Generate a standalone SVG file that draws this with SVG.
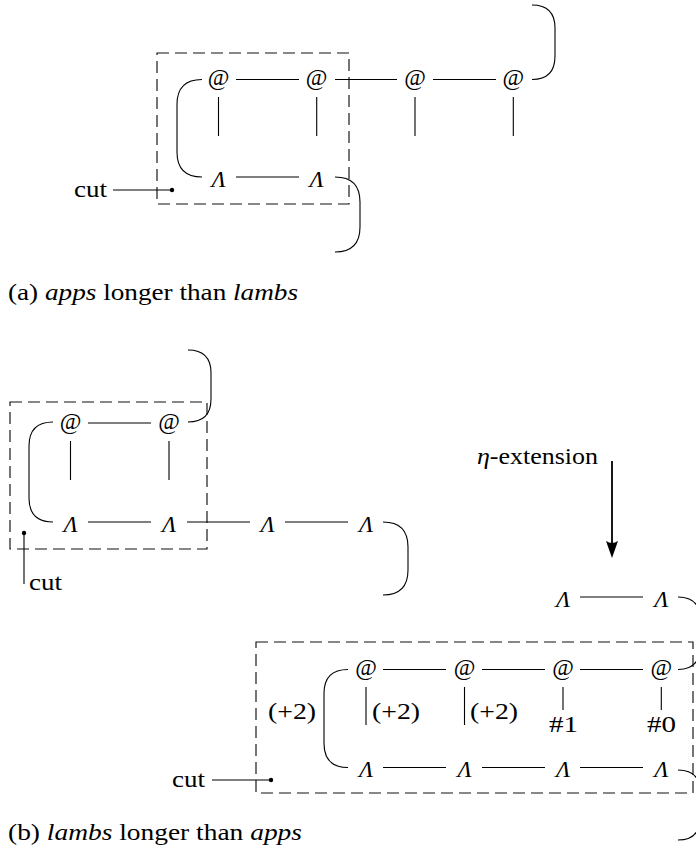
<svg xmlns="http://www.w3.org/2000/svg" width="696" height="856" viewBox="0 0 696 856">
<style>
.ln{stroke:#000;stroke-width:1.1;fill:none}
.box{stroke:#111;stroke-width:1.15;fill:none;stroke-dasharray:12 6}
.t text{font-size:23.5px;fill:#000}
.n{text-anchor:middle}
.it{font-style:italic}
</style>
<rect width="696" height="856" fill="#fff"/>
<g id="connectors">
<rect class="box" x="157" y="53" width="192" height="151"/>
<path class="ln" d="M236,79.5H299M335,79.5H397M433,79.5H496"/>
<path class="ln" d="M218.5,97V136M316.7,97V136M415,97V136M513.3,97V136"/>
<path class="ln" d="M236,177H299"/>
<path class="ln" d="M202,79.5Q177,79.5 177,104.5V152Q177,177 202,177"/>
<path class="ln" d="M335,177Q360,177 360,202V227Q360,252 335,252"/>
<path class="ln" d="M532,79.5Q555,79.5 555,56V28Q555,5 532,5"/>
<path class="ln" d="M113,190H172"/>
<circle cx="172" cy="190" r="2.2" fill="#000"/>
<rect class="box" x="10" y="402" width="197" height="147"/>
<path class="ln" d="M88,423H151"/>
<path class="ln" d="M70.5,441V480M169,441V480"/>
<path class="ln" d="M88,522H151M187,522H250M285,522H348"/>
<path class="ln" d="M53,422Q29,422 29,446V498Q29,522 53,522"/>
<path class="ln" d="M188,422Q211,422 211,399V373Q211,350 188,350"/>
<path class="ln" d="M383,522Q408,522 408,547V570Q408,595 383,595"/>
<path class="ln" d="M24,533V584"/>
<circle cx="24" cy="533" r="2.2" fill="#000"/>
<path d="M612,461V545" stroke="#000" stroke-width="1.8" fill="none"/>
<path d="M606,541Q612,545 618,541L612,558Z" fill="#000"/>
<path class="ln" d="M580,597H643"/>
<path class="ln" d="M678,597Q700,597 700,619V647Q700,669.5 678,669.5"/>
<rect class="box" x="256" y="642" width="437" height="151"/>
<path class="ln" d="M383,669.5H446M482,669.5H545M580,669.5H643"/>
<path class="ln" d="M366,687V725M464.5,687V725M563,687V710M661.3,687V710"/>
<path class="ln" d="M383,767.5H446M482,767.5H545M580,767.5H643"/>
<path class="ln" d="M348,669.5Q324,669.5 324,693.5V743.5Q324,767.5 348,767.5"/>
<path class="ln" d="M678,770Q700,770 700,792V818Q700,840 678,840"/>
<path class="ln" d="M212,780H271"/>
<circle cx="271" cy="780" r="2.2" fill="#000"/>
</g>
<g class="t" font-family="'Liberation Serif', 'Times New Roman', 'DejaVu Serif', serif">
<g id="a-app1"><text class="n" x="218.5" y="85">@</text></g>
<g id="a-app2"><text class="n" x="316.7" y="85">@</text></g>
<g id="a-app3"><text class="n" x="415" y="85">@</text></g>
<g id="a-app4"><text class="n" x="513.3" y="85">@</text></g>
<g id="a-lam1"><text class="n it" x="218.5" y="186.5">Λ</text></g>
<g id="a-lam2"><text class="n it" x="316.7" y="186.5">Λ</text></g>
<g id="a-cut"><text x="74" y="197" textLength="33" lengthAdjust="spacingAndGlyphs">cut</text></g>
<g id="a-caption"><text x="8" y="300" textLength="290" lengthAdjust="spacingAndGlyphs">(a) <tspan class="it">apps</tspan> longer than <tspan class="it">lambs</tspan></text></g>
<g id="b-app1"><text class="n" x="70.5" y="428.5">@</text></g>
<g id="b-app2"><text class="n" x="169" y="428.5">@</text></g>
<g id="b-lam1"><text class="n it" x="70.5" y="531.5">Λ</text></g>
<g id="b-lam2"><text class="n it" x="169" y="531.5">Λ</text></g>
<g id="b-lam3"><text class="n it" x="267.5" y="531.5">Λ</text></g>
<g id="b-lam4"><text class="n it" x="366" y="531.5">Λ</text></g>
<g id="b-cut"><text x="29" y="590" textLength="33" lengthAdjust="spacingAndGlyphs">cut</text></g>
<g id="eta"><text x="477" y="464" textLength="121" lengthAdjust="spacingAndGlyphs"><tspan class="it">η</tspan>-extension</text></g>
<g id="c-lam1"><text class="n it" x="563" y="606.5">Λ</text></g>
<g id="c-lam2"><text class="n it" x="661.3" y="606.5">Λ</text></g>
<g id="d-app1"><text class="n" x="366" y="675">@</text></g>
<g id="d-app2"><text class="n" x="464.5" y="675">@</text></g>
<g id="d-app3"><text class="n" x="563" y="675">@</text></g>
<g id="d-app4"><text class="n" x="661.3" y="675">@</text></g>
<g id="d-shift0"><text x="268" y="719" textLength="48" lengthAdjust="spacingAndGlyphs">(+2)</text></g>
<g id="d-shift1"><text x="372" y="719" textLength="48" lengthAdjust="spacingAndGlyphs">(+2)</text></g>
<g id="d-shift2"><text x="470" y="719" textLength="48" lengthAdjust="spacingAndGlyphs">(+2)</text></g>
<g id="d-var1"><text x="549" y="731.5" textLength="29" lengthAdjust="spacingAndGlyphs">#1</text></g>
<g id="d-var0"><text x="647" y="731.5" textLength="29" lengthAdjust="spacingAndGlyphs">#0</text></g>
<g id="d-lam1"><text class="n it" x="366" y="777">Λ</text></g>
<g id="d-lam2"><text class="n it" x="464.5" y="777">Λ</text></g>
<g id="d-lam3"><text class="n it" x="563" y="777">Λ</text></g>
<g id="d-lam4"><text class="n it" x="661.3" y="777">Λ</text></g>
<g id="d-cut"><text x="172" y="786.5" textLength="33" lengthAdjust="spacingAndGlyphs">cut</text></g>
<g id="b-caption"><text x="8" y="840" textLength="294" lengthAdjust="spacingAndGlyphs">(b) <tspan class="it">lambs</tspan> longer than <tspan class="it">apps</tspan></text></g>
</g>
</svg>
